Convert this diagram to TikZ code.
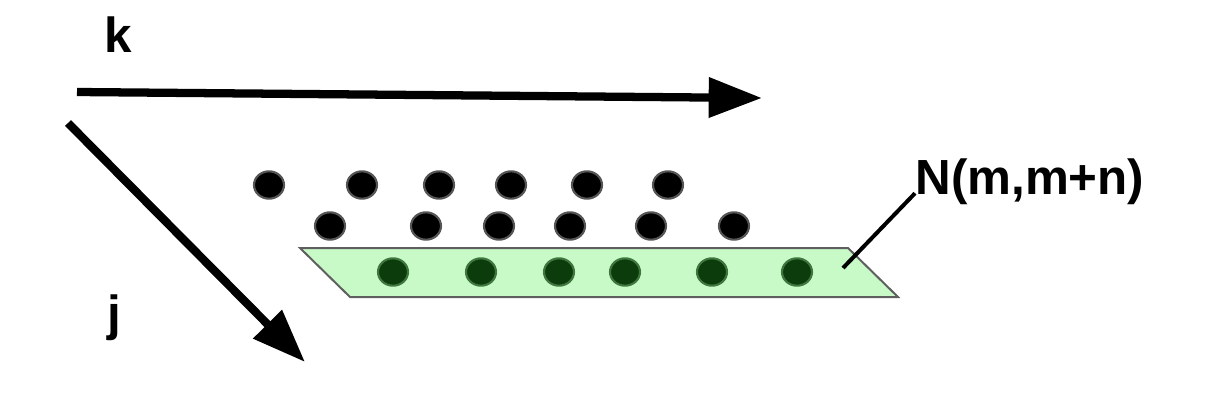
\documentclass[tikz,border=0pt]{standalone}
\usepackage{fontspec}
\setmainfont{Liberation Sans}
\usetikzlibrary{arrows.meta,shapes.geometric}

\tikzset{every picture/.style={line width=0.75pt}}
\tikzset{
  axisarrow/.style={line width=6.2pt,-{Triangle[length=40pt,width=29pt]}},
  blackdot/.style={ellipse,inner sep=0pt,minimum width=22.5pt,minimum height=20.5pt,
    fill=black,draw={rgb,255:red,85;green,85;blue,85},line width=1.6pt},
  greendot/.style={ellipse,inner sep=0pt,minimum width=22.5pt,minimum height=20.5pt,
    fill={rgb,255:red,12;green,60;blue,12},draw={rgb,255:red,62;green,118;blue,62},line width=1.6pt},
  bigtext/.style={inner sep=0pt,font=\fontsize{37}{42}\selectfont\bfseries},
}

\begin{document}
\begin{tikzpicture}[x=0.75pt,y=0.75pt,yscale=-1,xscale=1]
\path[use as bounding box] (0,0) rectangle (1228,418);

% axis arrows
\coordinate (kstart) at (77,92);
\coordinate (kend) at (762,98);
\coordinate (jstart) at (68,123);
\coordinate (jend) at (305,362);
\draw[axisarrow] (kstart) -- (kend);
\draw[axisarrow] (jstart) -- (jend);

% axis labels
\node[bigtext,anchor=base west] (klbl) at (104,52) {k};
\node[bigtext,anchor=base west] (jlbl) at (107,330) {j};

%Shape: band
\draw[fill={rgb,255:red,200;green,250;blue,200},draw={rgb,255:red,95;green,95;blue,95},line width=1.5pt]
  (300,248) -- (848,248) -- (898,297) -- (350,297) -- cycle;

% dots
\foreach \x [count=\i] in {269,362,439,511,587,668}
  \node[blackdot] (top\i) at (\x,185) {};
\foreach \x [count=\i] in {330,426,499,570,651,734}
  \node[blackdot] (mid\i) at (\x,226) {};
\foreach \x [count=\i] in {393,481,559,625,712,797}
  \node[greendot] (low\i) at (\x,272) {};

% leader to label
\node[bigtext,anchor=base west] (nlbl) at (915,194) {N(m,m+n)};
\coordinate (bandpt) at (843,268);
\draw[line width=3pt] (bandpt) -- ([yshift=9pt]nlbl.west);

\end{tikzpicture}
\end{document}
